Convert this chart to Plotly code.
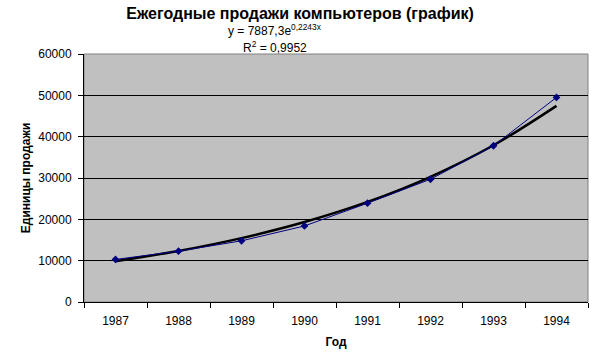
import plotly.graph_objects as go
import numpy as np

years = ["1987", "1988", "1989", "1990", "1991", "1992", "1993", "1994"]
sales = [10300, 12300, 14800, 18400, 23900, 29700, 37800, 49500]

# Exponential trendline coefficients as printed on the chart
trend_a = 7887.3
trend_b = 0.2243
trend_x = np.arange(1, len(years) + 1)
trend_y = trend_a * np.exp(trend_b * trend_x)

y_ticks = [0, 10000, 20000, 30000, 40000, 50000, 60000]

FONT = "Arial, Liberation Sans, sans-serif"

fig = go.Figure()
fig.add_trace(go.Scatter(
    x=years, y=trend_y, mode="lines",
    line=dict(color="black", width=2.5, shape="spline"),
    hoverinfo="skip", showlegend=False,
))
fig.add_trace(go.Scatter(
    x=years, y=sales, mode="lines+markers",
    line=dict(color="#000080", width=1),
    marker=dict(symbol="diamond", size=6, color="#000080"),
    showlegend=False,
))

fig.update_layout(
    width=593, height=361,
    margin=dict(l=84, r=5, t=54, b=59),
    paper_bgcolor="white",
    plot_bgcolor="#C0C0C0",
    font=dict(family=FONT, size=12, color="black"),
    title=dict(
        text="<b>Ежегодные продажи компьютеров (график)</b>",
        x=0.506, xanchor="center", y=0.963, yanchor="middle",
        font=dict(family=FONT, size=16, color="black"),
    ),
    xaxis=dict(
        type="category", range=[-0.5, 7.5],
        tickson="boundaries", ticks="outside", ticklen=5, tickcolor="black",
        ticklabelstandoff=8,
        showline=True, linecolor="black", linewidth=1,
        showgrid=False, zeroline=False,
        tickfont=dict(family=FONT, size=12, color="black"),
        title=dict(text="<b>Год</b>", font=dict(family=FONT, size=12, color="black"), standoff=10),
    ),
    yaxis=dict(
        range=[0, 60000], tickvals=y_ticks, ticktext=[str(v) for v in y_ticks],
        ticks="outside", ticklen=5, tickcolor="black",
        ticklabelstandoff=4,
        showline=True, linecolor="black", linewidth=1,
        showgrid=True, gridcolor="black", gridwidth=1, zeroline=False,
        tickfont=dict(family=FONT, size=12, color="black"),
        title=dict(text="<b>Единицы продажи</b>", font=dict(family=FONT, size=12, color="black"), standoff=5),
    ),
    shapes=[dict(type="rect", xref="paper", yref="paper", x0=0, x1=1, y0=0, y1=1,
                 line=dict(color="#808080", width=1), layer="below")],
    annotations=[
        dict(text="y = 7887,3e<sup>0,2243x</sup>", xref="paper", yref="paper",
             x=0.379, y=1.095, xanchor="center", yanchor="middle", showarrow=False,
             font=dict(family=FONT, size=12, color="black")),
        dict(text="R<sup>2</sup> = 0,9952", xref="paper", yref="paper",
             x=0.379, y=1.028, xanchor="center", yanchor="middle", showarrow=False,
             font=dict(family=FONT, size=12, color="black")),
    ],
)

fig.write_html("out.html")
